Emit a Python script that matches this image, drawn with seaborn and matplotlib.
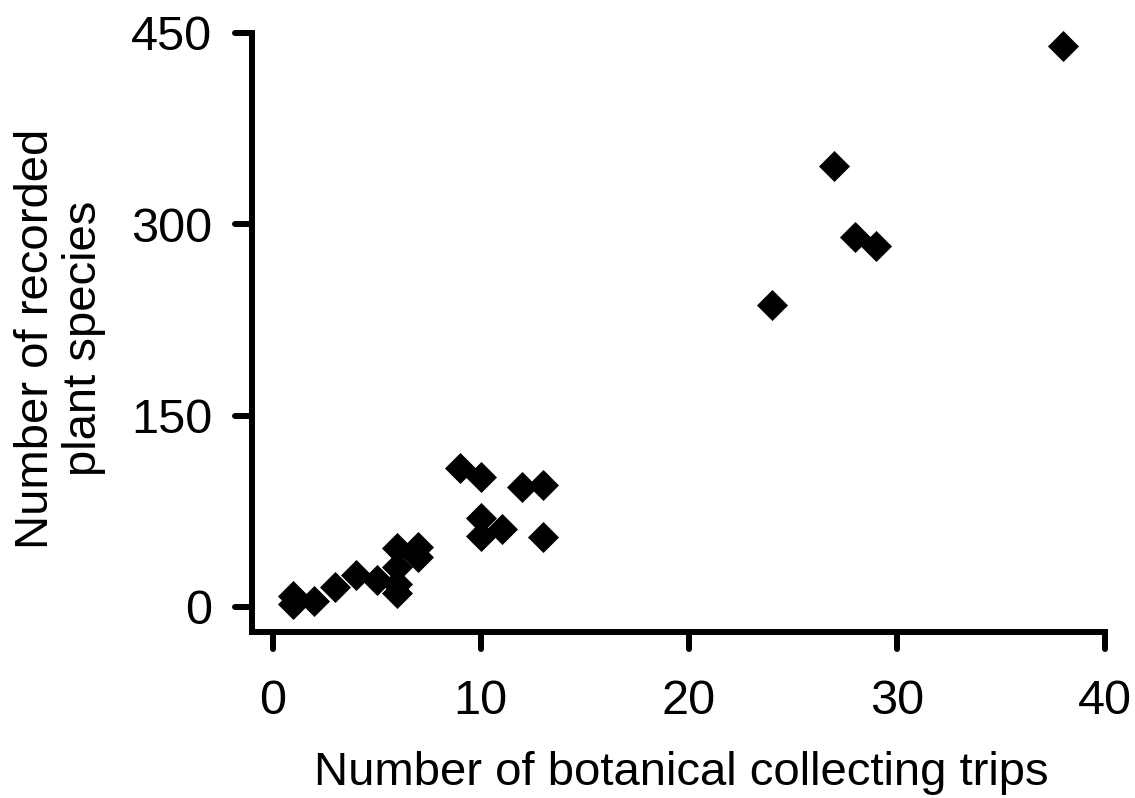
import matplotlib.pyplot as plt
from matplotlib.markers import MarkerStyle
import seaborn as sns
import pandas as pd

# number of collecting trips vs number of recorded species
trips = [38, 27, 28, 29, 24,
         9, 10, 12, 13, 10, 11, 10, 13,
         6, 7, 7, 6, 6, 6, 5, 4, 3, 2, 1, 1]
species = [440, 346, 290, 283, 237,
           109, 102, 94, 96, 70, 61, 56, 55,
           46, 47, 39, 31, 18, 11, 21, 25, 16, 5, 9, 2]

xticks = [0, 10, 20, 30, 40]
yticks = [0, 150, 300, 450]

df = pd.DataFrame({"trips": trips, "species": species})

sns.set_style("white")
plt.rcParams['font.family'] = ['Liberation Sans', 'DejaVu Sans']
plt.rcParams['text.color'] = 'black'
plt.rcParams['axes.labelcolor'] = 'black'
plt.rcParams['xtick.color'] = 'black'
plt.rcParams['ytick.color'] = 'black'

W, H = 1135, 798
fig = plt.figure(figsize=(W/100, H/100), dpi=100)
ax = fig.add_axes([252/W, 1-632/H, (1105-252)/W, (632-33)/H])

sns.scatterplot(data=df, x="trips", y="species", marker="D", color="black",
                s=250, edgecolor="black", linewidth=0, ax=ax, clip_on=False)

ax.set_xlim(-0.99, 40)
ax.set_ylim(-19.6, 450)
ax.set_xticks(xticks)
ax.set_yticks(yticks)
ax.tick_params(axis="both", labelsize=35, length=12.5, width=4.3,
               direction="out", bottom=True, left=True)
ax.tick_params(axis="x", pad=21)
ax.tick_params(axis="y", pad=16)
for tl in ax.get_xticklines() + ax.get_yticklines():
    tl.set_marker(MarkerStyle(tl.get_marker(), capstyle="round"))
for side in ["top", "right"]:
    ax.spines[side].set_visible(False)
for side in ["left", "bottom"]:
    ax.spines[side].set_linewidth(4.3)
    ax.spines[side].set_color("black")
    ax.spines[side].set_capstyle("projecting")

ax.set_xlabel("Number of botanical collecting trips", fontsize=34)
ax.set_ylabel("Number of recorded\nplant species", fontsize=34,
              linespacing=1.12)
ax.xaxis.set_label_coords(0.5035, -0.199)
ax.yaxis.set_label_coords(-0.171, 0.49)

fig.savefig("out.png", dpi=100)
